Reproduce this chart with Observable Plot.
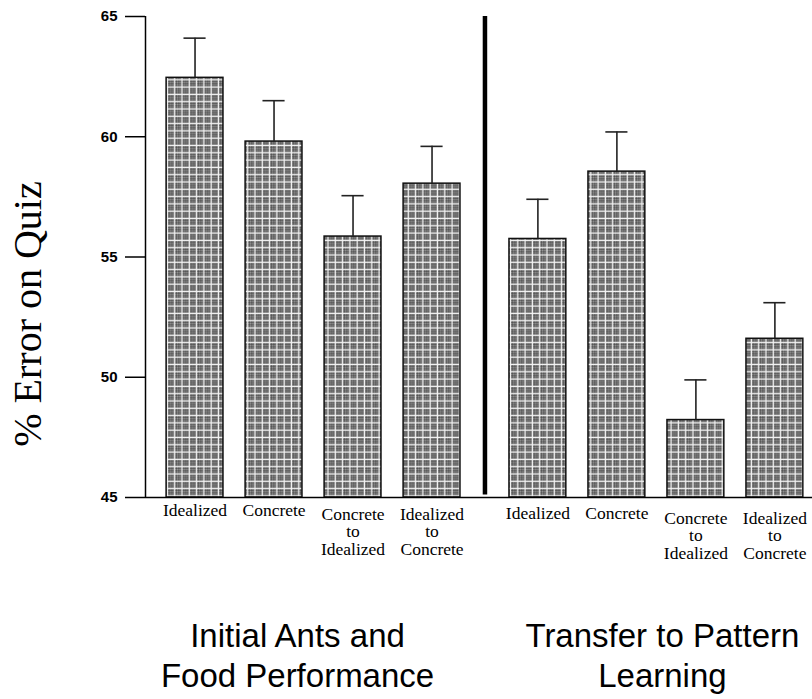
<!DOCTYPE html>
<html>
<head>
<meta charset="utf-8">
<script src="https://cdn.jsdelivr.net/npm/d3@7"></script>
<script src="https://cdn.jsdelivr.net/npm/@observablehq/plot@0.6"></script>
<style>
  html, body { margin: 0; padding: 0; background: #fff; }
  #chart svg { display: block; }
</style>
</head>
<body>
<div id="chart"></div>
<script>
// ---- Data ----
const conditions = ["Idealized", "Concrete", "Concrete\nto\nIdealized", "Idealized\nto\nConcrete"];
const groups = ["Initial Ants and\nFood Performance", "Transfer to Pattern\nLearning"];
const initialMeans = [62.45, 59.8, 55.85, 58.05];
const initialErrors = [1.65, 1.7, 1.7, 1.55];
const transferMeans = [55.75, 58.55, 48.22, 51.6];
const transferErrors = [1.65, 1.65, 1.67, 1.5];
const yTicks = [45, 50, 55, 60, 65];
const yLabel = "% Error on Quiz";

// ---- Layout constants ----
const groupStride = 4.34;   // slot distance between the two groups
const barHalf = 0.36;       // half bar width in slot units
const capHalf = 0.14;       // half error cap width

const means = [initialMeans, transferMeans];
const errors = [initialErrors, transferErrors];
const rows = groups.flatMap((g, gi) => conditions.map((c, ci) => ({
  group: g,
  gi,
  condition: c,
  multi: c.includes("\n"),
  mean: means[gi][ci],
  err: errors[gi][ci],
  slot: ci + gi * groupStride
})));
const dividerSlot = (3 + groupStride) / 2;
const groupRows = groups.map((g, gi) => ({group: g, slot: 1.5 + gi * groupStride, gi}));

const serif = "'Liberation Serif', 'Times New Roman', serif";
const sans = "'Liberation Sans', Arial, sans-serif";

const catLabel = (filter, dy) => Plot.text(rows.filter(filter), {
  x: "slot", y: 45, text: "condition", lineAnchor: "top", dy,
  fontFamily: serif, fontSize: 17.5, lineHeight: 1, fill: "black"
});
const groupLabel = (gi, dx) => Plot.text(groupRows.filter(d => d.gi === gi), {
  x: "slot", y: 45, text: "group", lineAnchor: "top", dy: 121, dx,
  fontFamily: sans, fontSize: 33, lineHeight: 1.22, fill: "black"
});

const plot = Plot.plot({
  width: 812,
  height: 699,
  marginLeft: 145,
  marginRight: 0,
  marginTop: 16,
  marginBottom: 202,
  style: {fontFamily: sans, background: "white", overflow: "visible"},
  x: {domain: [-0.627, 7.816], axis: null},
  y: {domain: [45, 65], axis: null},
  marks: [
    // bars
    Plot.rectY(rows, {
      x1: d => d.slot - barHalf, x2: d => d.slot + barHalf,
      y1: 45, y2: "mean",
      fill: "url(#chk)", stroke: "#111", strokeWidth: 1.5
    }),
    // error bars (upper only)
    Plot.ruleX(rows, {x: "slot", y1: "mean", y2: d => d.mean + d.err, stroke: "#222", strokeWidth: 1.6}),
    Plot.ruleY(rows, {y: d => d.mean + d.err, x1: d => d.slot - capHalf, x2: d => d.slot + capHalf, stroke: "#222", strokeWidth: 1.6}),
    // divider between the two groups
    Plot.ruleX([dividerSlot], {x: d => d, y1: 45.1, y2: 65, stroke: "black", strokeWidth: 4.5}),
    // axis lines
    Plot.ruleX([-0.627], {x: d => d, stroke: "black", strokeWidth: 1.5}),
    Plot.ruleY([45], {stroke: "black", strokeWidth: 1.5}),
    Plot.axisY({
      ticks: yTicks, tickSize: 20, tickPadding: 8, label: null,
      fontSize: 15, fontWeight: "bold", fontFamily: sans, strokeWidth: 1.5, stroke: "black"
    }),
    // y label
    Plot.text([yLabel], {
      frameAnchor: "left", textAnchor: "middle", rotate: -90, dx: -117, dy: 57,
      fontFamily: serif, fontSize: 40, fill: "black"
    }),
    // category labels
    catLabel(d => !d.multi && d.gi === 0, 6),
    catLabel(d => !d.multi && d.gi === 1, 9),
    catLabel(d => d.multi && d.gi === 0, 10),
    catLabel(d => d.multi && d.gi === 1, 14),
    // group labels
    groupLabel(0, -16),
    groupLabel(1, 6)
  ]
});

// checkered bar fill pattern
const ns = "http://www.w3.org/2000/svg";
const defs = document.createElementNS(ns, "defs");
defs.innerHTML = `
  <pattern id="dith" width="2" height="2" patternUnits="userSpaceOnUse">
    <rect width="2" height="2" fill="#606060"/>
    <rect x="0" y="0" width="1" height="1" fill="#a0a0a0"/>
    <rect x="1" y="1" width="1" height="1" fill="#404040"/>
  </pattern>
  <pattern id="chk" width="7.3" height="7.3" patternUnits="userSpaceOnUse">
    <rect width="7.3" height="7.3" fill="#f4f4f4"/>
    <rect x="0" y="0" width="6.1" height="6.1" fill="url(#dith)"/>
  </pattern>`;
plot.insertBefore(defs, plot.firstChild);
document.getElementById("chart").appendChild(plot);
</script>
</body>
</html>
